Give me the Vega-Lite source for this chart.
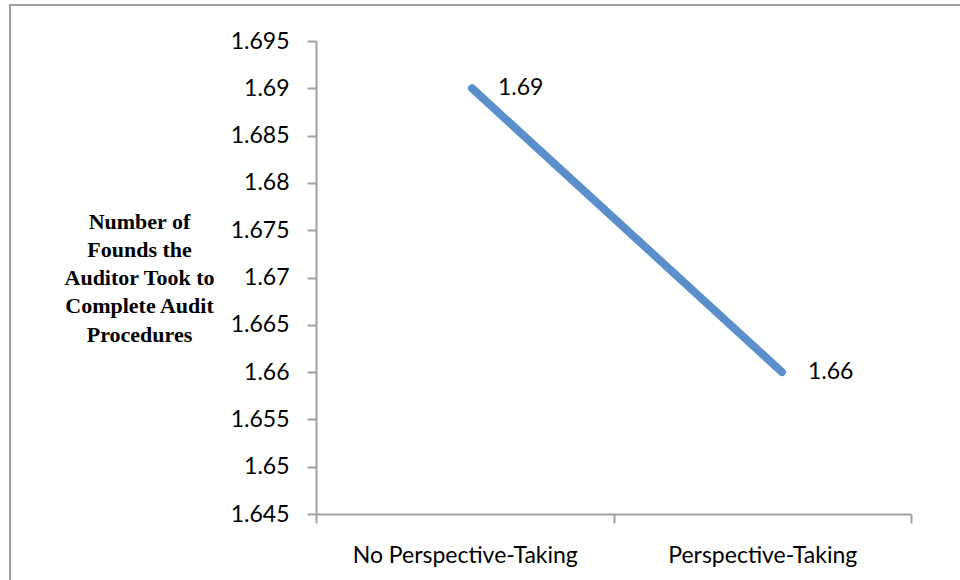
{
  "$schema": "https://vega.github.io/schema/vega-lite/v6.json",
  "width": 962,
  "height": 587,
  "autosize": {"type": "none"},
  "padding": {"left": 10, "top": 5, "right": -12, "bottom": -12},
  "background": "white",
  "config": {
    "view": {"stroke": "#A0A0A0", "strokeWidth": 2}
  },
  "data": {
    "values": [
      {"condition": "No Perspective-Taking", "value": 1.69},
      {"condition": "Perspective-Taking", "value": 1.66}
    ]
  },
  "encoding": {
    "y": {
      "field": "value",
      "type": "quantitative",
      "scale": {"domain": [1.645, 1.695], "range": [509, 36], "nice": false, "zero": false},
      "axis": {
        "orient": "left",
        "offset": -306,
        "values": [1.645, 1.65, 1.655, 1.66, 1.665, 1.67, 1.675, 1.68, 1.685, 1.69, 1.695],
        "format": ".3~f",
        "labelFont": "Lato",
        "labelFontSize": 23,
        "labelColor": "#000000",
        "labelPadding": 18,
        "domainColor": "#A0A0A0",
        "domainWidth": 2,
        "tickColor": "#A0A0A0",
        "tickWidth": 2,
        "tickSize": 9,
        "grid": false,
        "title": ["Number of", "Founds the", "Auditor Took to", "Complete Audit", "Procedures"],
        "titleFont": "Liberation Serif",
        "titleFontWeight": "bold",
        "titleFontSize": 22,
        "titleColor": "#000000",
        "titleAngle": 0,
        "titleAlign": "center",
        "titleBaseline": "middle",
        "titleLineHeight": 28.3,
        "titleX": -177,
        "titleY": 216
      }
    }
  },
  "layer": [
    {
      "mark": {"type": "point", "opacity": 0},
      "encoding": {
        "x": {
          "field": "condition",
          "type": "nominal",
          "sort": null,
          "scale": {"type": "band", "range": [306, 901], "paddingInner": 0, "paddingOuter": 0},
          "axis": {
            "title": null,
            "orient": "bottom",
            "offset": -78,
            "tickBand": "extent",
            "labelAngle": 0,
            "labelLimit": 0,
            "labelFont": "Lato",
            "labelFontSize": 23,
            "labelColor": "#000000",
            "labelPadding": 21,
            "domainColor": "#A0A0A0",
            "domainWidth": 2,
            "tickColor": "#A0A0A0",
            "tickWidth": 2,
            "tickSize": 9,
            "grid": false
          }
        }
      }
    },
    {
      "encoding": {
        "x": {
          "field": "condition",
          "type": "nominal",
          "sort": null,
          "scale": {"type": "point", "range": [462, 772], "padding": 0},
          "axis": null
        }
      },
      "layer": [
        {
          "mark": {"type": "line", "color": "#5A8FCB", "strokeWidth": 8, "strokeCap": "round"}
        },
        {
          "mark": {"type": "text", "align": "left", "baseline": "middle", "dx": 26, "font": "Lato", "fontSize": 23, "color": "#000000"},
          "encoding": {"text": {"field": "value", "type": "quantitative", "format": ".2f"}}
        }
      ]
    }
  ],
  "resolve": {"scale": {"x": "independent"}, "axis": {"x": "independent"}}
}
